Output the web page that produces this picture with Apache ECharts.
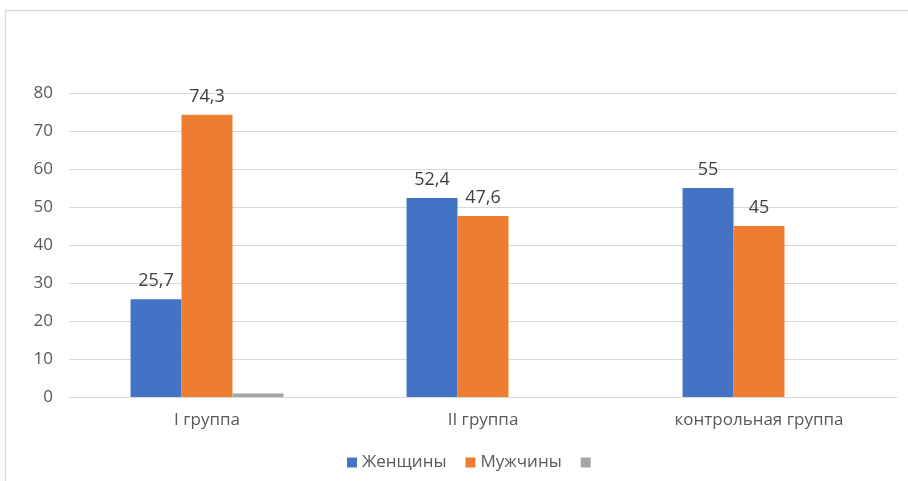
<!DOCTYPE html>
<html>
<head>
<meta charset="utf-8">
<script src="https://cdn.jsdelivr.net/npm/echarts@6/dist/echarts.min.js"></script>
<style>
  html, body { margin: 0; padding: 0; background: #fff; }
  #chart { width: 908px; height: 481px; }
</style>
</head>
<body>
<div id="chart"></div>
<script>
const categories = ['I группа', 'II группа', 'контрольная группа']
const women = [25.7, 52.4, 55]
const men = [74.3, 47.6, 45]
const other = [0.9, 0, 0]
const yTicks = { min: 0, max: 80, interval: 10 }

const fontFamily = '"Open Sans", "Noto Sans", sans-serif'
const chart = echarts.init(document.getElementById('chart'))

// подписи значений с запятой, как в исходнике
const commaLabel = {
  show: true,
  position: 'top',
  distance: 9,
  color: '#404040',
  fontSize: 18,
  fontFamily: fontFamily,
  formatter: (p) => String(p.value).replace('.', ',')
}

const option = {
  animation: false,
  textStyle: { fontFamily: fontFamily },
  graphic: [
    {
      type: 'rect',
      shape: { x: 5.5, y: 10.5, width: 1000, height: 1000 },
      style: { fill: 'none', stroke: '#d9d9d9', lineWidth: 1.5 },
      silent: true
    }
  ],
  grid: { left: 69, right: 11, top: 93, bottom: 84 },
  legend: {
    left: 342,
    top: 449,
    icon: 'rect',
    itemWidth: 10,
    itemHeight: 10,
    itemGap: 19,
    textStyle: { color: '#595959', fontSize: 17, fontFamily: fontFamily },
    data: ['Женщины', 'Мужчины', ' ']
  },
  xAxis: {
    type: 'category',
    data: categories,
    axisLine: { lineStyle: { color: '#d9d9d9' } },
    axisTick: { show: false },
    axisLabel: { color: '#595959', fontSize: 17, margin: 15 }
  },
  yAxis: {
    type: 'value',
    min: yTicks.min,
    max: yTicks.max,
    interval: yTicks.interval,
    axisLine: { show: false },
    axisTick: { show: false },
    axisLabel: { color: '#595959', fontSize: 17, margin: 16 },
    splitLine: { lineStyle: { color: '#d9d9d9' } }
  },
  series: [
    {
      name: 'Женщины',
      type: 'bar',
      data: women,
      barGap: '0%',
      barCategoryGap: '44.6%',
      itemStyle: { color: '#4472c4' },
      label: commaLabel
    },
    {
      name: 'Мужчины',
      type: 'bar',
      data: men,
      itemStyle: { color: '#ed7d31' },
      label: commaLabel
    },
    {
      name: ' ',
      type: 'bar',
      data: other,
      itemStyle: { color: '#a5a5a5' }
    }
  ]
}

chart.setOption(option)
</script>
</body>
</html>
